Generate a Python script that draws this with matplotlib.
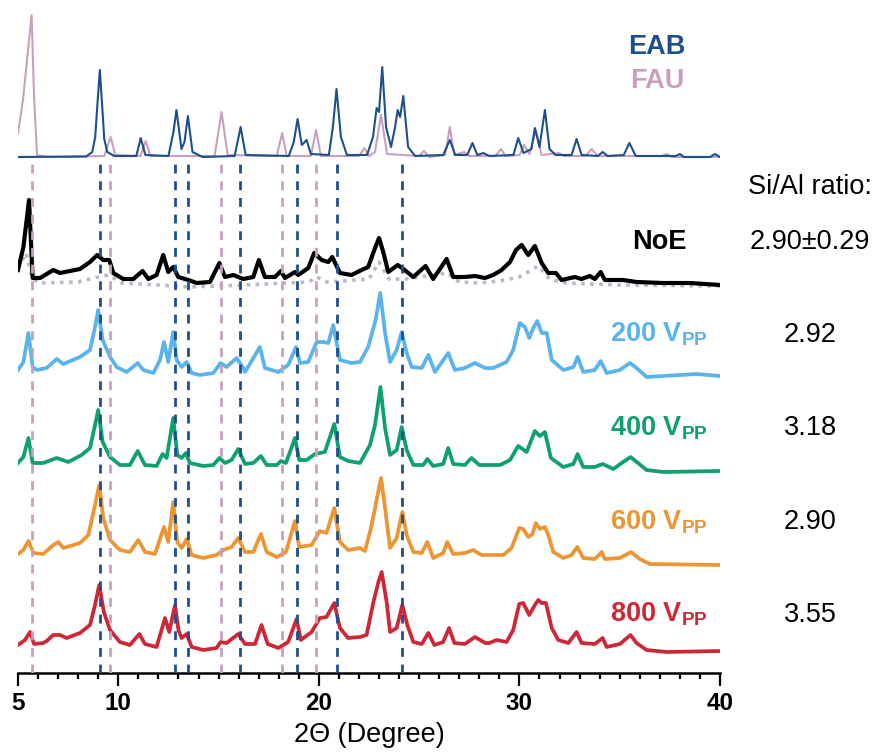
import matplotlib
matplotlib.use("Agg")
import matplotlib.pyplot as plt
from matplotlib.ticker import MultipleLocator, FixedLocator

plt.rcParams['font.family'] = ['Liberation Sans', 'DejaVu Sans']
plt.rcParams['mathtext.fontset'] = 'custom'
plt.rcParams['mathtext.rm'] = 'Liberation Sans'
plt.rcParams['mathtext.bf'] = 'Liberation Sans:bold'

# ---------------- data: (2theta, intensity above own baseline) ----------------
eab_pts = [(5.0, 0), (8.4, 0.5), (8.7, 5), (8.85, 20), (8.95, 50), (9.08, 87), (9.2, 50), (9.3, 18),
           (9.45, 5), (9.8, 1),
           (10.9, 1), (11.12, 19), (11.35, 2), (12.5, 1), (12.75, 25), (12.9, 47), (13.15, 8),
           (13.3, 15), (13.47, 41), (13.7, 5), (14.2, 0), (15.8, 1), (16.1, 30), (16.35, 2),
           (18.5, 1), (18.75, 15), (18.94, 38), (19.15, 12), (19.39, 17), (19.6, 3), (20.5, 2),
           (20.7, 30), (20.88, 68), (21.1, 20), (21.4, 2), (22.4, 2), (22.7, 20), (22.88, 49),
           (23.0, 45), (23.16, 90), (23.35, 30), (23.6, 10), (23.8, 30), (23.93, 47), (24.05, 40),
           (24.21, 61), (24.45, 10), (24.8, 1), (26.2, 2), (26.53, 17), (26.8, 2), (27.4, 2),
           (27.66, 14), (27.9, 2), (28.2, 4), (28.5, 1), (29.7, 2), (29.94, 19), (30.2, 4),
           (30.6, 8), (30.77, 29), (31.0, 10), (31.27, 47), (31.5, 8), (31.8, 2), (32.6, 2),
           (32.85, 18), (33.1, 2), (33.9, 1), (34.15, 5), (34.4, 1), (35.2, 2), (35.48, 14),
           (35.8, 1), (37.8, 1), (38.0, 3), (38.2, 0), (39.5, 0), (39.75, 3), (40.0, 0)]

fau_pts = [(5.0, 24), (5.25, 57), (5.5, 107), (5.68, 142), (5.8, 60), (5.95, 2), (6.5, 0),
           (9.3, 1), (9.62, 20), (9.85, 2), (11.1, 1), (11.37, 16), (11.6, 1), (14.8, 1),
           (15.15, 45), (15.45, 2), (17.9, 1), (18.17, 24), (18.4, 1), (19.6, 1), (19.86, 27),
           (20.1, 1), (22.0, 1), (22.27, 9), (22.5, 1), (22.8, 5), (23.1, 42), (23.4, 3),
           (25.0, 1), (25.24, 6), (25.5, 0), (26.3, 2), (26.53, 30), (26.75, 2), (27.25, 5),
           (27.5, 1), (28.8, 1), (29.08, 8), (29.3, 1), (30.0, 2), (30.24, 12), (30.5, 3),
           (30.82, 27), (31.1, 2), (31.98, 4), (32.2, 1), (33.3, 1), (33.6, 8), (33.9, 1),
           (37.1, 1), (37.35, 3), (37.6, 0), (40.0, 0)]

noe_pts = [(5.0, 15), (5.27, 38), (5.55, 85), (5.73, 7), (6.1, 7), (6.76, 15), (7.09, 12),
           (8.09, 16), (8.59, 23), (8.95, 30), (9.25, 25), (9.55, 25), (9.75, 12), (10.25, 6),
           (10.75, 6), (11.21, 14), (11.5, 6), (11.91, 10), (12.24, 30), (12.49, 13), (12.74, 18),
           (12.99, 8), (13.49, 5), (13.91, 2), (14.57, 3), (15.04, 22), (15.32, 8), (15.74, 10),
           (16.23, 6), (16.73, 8), (17.01, 25), (17.31, 8), (17.81, 8), (18.11, 14), (18.31, 7),
           (18.81, 13), (18.97, 10), (19.47, 17), (19.77, 32), (20.14, 25), (20.47, 23),
           (20.67, 28), (21.05, 12), (21.63, 10), (22.13, 15), (22.46, 18), (22.8, 37),
           (23.0, 47), (23.21, 33), (23.46, 13), (23.93, 20), (24.21, 16), (24.71, 8),
           (25.32, 19), (25.7, 6), (26.37, 26), (26.7, 8), (27.28, 8), (27.78, 9), (28.28, 7),
           (28.69, 10), (29.11, 15), (29.53, 23), (29.83, 35), (30.11, 40), (30.44, 30),
           (30.77, 39), (31.11, 22), (31.44, 12), (31.82, 12), (32.1, 5), (32.77, 8), (33.1, 6),
           (33.51, 9), (33.76, 6), (34.05, 13), (34.26, 5), (35.17, 5), (35.84, 3), (37.17, 2),
           (38.5, 2), (40.0, 0)]

amorph_pts = [(5.0, 17), (5.4, 32), (5.7, 8), (6.0, 2), (8.0, 3), (9.0, 8), (9.5, 10), (10.2, 2),
              (12.0, 0), (13.5, -2), (16.3, 0), (19.5, 3), (19.9, 8), (20.4, 3), (22.5, 6),
              (23.0, 23), (23.5, 6), (24.3, 6), (26.4, 12), (27.0, 3), (28.0, 2), (29.0, 4),
              (30.0, 8), (30.94, 19), (31.5, 6), (32.35, 2), (35.0, 0), (40.0, -1)]

v200_pts = [(5.0, 7), (5.27, 15), (5.52, 44), (5.73, 10), (5.93, 7), (6.43, 9), (6.93, 18),
            (7.26, 13), (8.09, 20), (8.59, 27), (8.84, 50), (9.0, 67), (9.22, 37), (9.59, 20),
            (9.92, 10), (10.42, 5), (10.97, 14), (11.25, 7), (11.75, 4), (12.08, 17), (12.28, 35),
            (12.49, 15), (12.74, 45), (12.91, 17), (13.16, 10), (13.41, 15), (13.66, 4),
            (14.07, 2), (14.74, 4), (15.1, 14), (15.4, 10), (15.9, 19), (16.23, 9), (16.32, 5),
            (17.06, 30), (17.31, 9), (17.98, 5), (18.47, 12), (18.86, 30), (19.06, 14),
            (19.47, 15), (19.89, 35), (20.22, 35), (20.47, 34), (20.72, 52), (21.05, 17),
            (21.63, 14), (22.05, 15), (22.46, 30), (22.83, 57), (23.06, 84), (23.3, 44),
            (23.55, 15), (23.88, 27), (24.13, 45), (24.38, 24), (24.63, 10), (25.13, 9),
            (25.46, 22), (25.79, 5), (26.45, 24), (26.78, 7), (27.28, 9), (27.78, 14), (28.28, 9),
            (28.69, 9), (29.36, 15), (29.69, 27), (30.02, 54), (30.27, 50), (30.49, 39),
            (30.69, 49), (30.89, 56), (31.11, 44), (31.36, 44), (31.61, 17), (32.19, 7),
            (32.69, 10), (32.9, 20), (33.18, 5), (33.76, 7), (34.05, 16), (34.35, 4), (35.01, 7),
            (35.51, 14), (35.84, 9), (36.34, 0), (38.0, 2), (38.83, 3), (40.0, 1)]

v400_pts = [(5.0, 8), (5.27, 14), (5.52, 33), (5.73, 8), (6.26, 8), (6.93, 13), (7.51, 9),
            (8.17, 16), (8.59, 23), (8.84, 46), (9.0, 61), (9.22, 29), (9.59, 14), (10.08, 6),
            (10.58, 6), (10.97, 20), (11.33, 6), (11.91, 5), (12.21, 17), (12.41, 13), (12.74, 53),
            (12.94, 16), (13.16, 13), (13.37, 18), (13.57, 8), (14.24, 5), (14.74, 6), (15.04, 13),
            (15.32, 8), (15.65, 11), (15.98, 22), (16.32, 7), (16.73, 8), (17.11, 15), (17.4, 6),
            (17.9, 6), (18.11, 10), (18.36, 8), (18.81, 33), (19.02, 11), (19.39, 11),
            (19.81, 17), (20.3, 19), (20.77, 47), (21.05, 14), (21.46, 10), (22.05, 8),
            (22.55, 26), (22.8, 46), (23.07, 84), (23.3, 43), (23.55, 16), (23.88, 21),
            (24.13, 44), (24.38, 21), (24.71, 6), (25.2, 6), (25.41, 12), (25.7, 5), (26.2, 7),
            (26.45, 23), (26.7, 7), (27.28, 6), (27.61, 13), (28.0, 6), (29.03, 6), (29.53, 11),
            (29.94, 25), (30.36, 19), (30.77, 40), (31.02, 35), (31.27, 39), (31.57, 13),
            (32.19, 4), (32.69, 7), (32.9, 17), (33.18, 4), (33.76, 4), (34.15, 7), (34.68, 2),
            (35.17, 9), (35.54, 14), (36.34, 1), (37.17, -1), (40.0, 0)]

v600_pts = [(5.0, 11), (5.27, 15), (5.52, 24), (5.77, 12), (6.26, 11), (6.76, 20), (7.01, 23),
            (7.26, 17), (8.09, 22), (8.51, 30), (8.84, 60), (9.05, 80), (9.25, 47), (9.59, 25),
            (10.08, 15), (10.58, 13), (11.0, 25), (11.33, 13), (11.83, 11), (12.28, 38),
            (12.49, 23), (12.74, 63), (12.94, 23), (13.16, 17), (13.41, 26), (13.66, 10),
            (14.24, 7), (14.9, 10), (15.24, 15), (15.65, 18), (15.98, 27), (16.32, 13),
            (16.73, 13), (17.11, 31), (17.4, 13), (17.9, 8), (18.36, 13), (18.81, 44), (19.02, 18),
            (19.64, 20), (20.05, 34), (20.38, 32), (20.77, 57), (21.05, 23), (21.46, 15),
            (22.05, 17), (22.3, 14), (22.6, 37), (22.83, 60), (23.1, 87), (23.3, 57), (23.55, 17),
            (23.88, 27), (24.16, 53), (24.38, 30), (24.71, 13), (25.13, 12), (25.41, 23),
            (25.7, 7), (26.2, 12), (26.4, 23), (26.7, 11), (27.28, 12), (27.7, 15), (28.1, 10),
            (29.2, 10), (29.61, 17), (29.99, 37), (30.19, 36), (30.44, 28), (30.65, 31),
            (30.82, 42), (31.02, 36), (31.27, 38), (31.44, 30), (31.69, 13), (32.19, 7),
            (32.6, 10), (32.88, 18), (33.18, 7), (33.76, 6), (34.1, 13), (34.26, 6), (35.01, 7),
            (35.56, 13), (36.0, 6), (36.5, 1), (40.0, 0)]

v800_pts = [(5.0, 6), (5.35, 11), (5.6, 19), (5.8, 7), (6.26, 8), (6.43, 10), (6.76, 16),
            (7.09, 16), (7.43, 13), (8.09, 18), (8.59, 26), (8.84, 46), (9.05, 66), (9.28, 39),
            (9.59, 21), (10.08, 9), (10.58, 6), (11.05, 17), (11.33, 7), (11.91, 4), (12.33, 33),
            (12.54, 19), (12.83, 46), (13.0, 21), (13.16, 13), (13.41, 17), (13.66, 4),
            (14.24, 1), (14.9, 3), (15.1, 9), (15.4, 8), (15.98, 17), (16.32, 7), (16.82, 7),
            (17.14, 26), (17.45, 7), (17.98, 3), (18.47, 9), (18.89, 32), (19.1, 11), (19.64, 19),
            (20.05, 33), (20.38, 34), (20.77, 48), (21.05, 23), (21.46, 13), (22.05, 14),
            (22.38, 16), (22.72, 49), (22.97, 69), (23.13, 79), (23.38, 49), (23.55, 19),
            (23.88, 23), (24.16, 46), (24.41, 26), (24.71, 9), (25.13, 7), (25.46, 18),
            (25.76, 6), (26.2, 9), (26.49, 23), (26.76, 8), (27.28, 7), (27.78, 14), (28.3, 8),
            (28.5, 8), (28.86, 11), (29.36, 9), (29.69, 21), (29.99, 47), (30.19, 48),
            (30.49, 36), (30.77, 46), (30.94, 51), (31.11, 48), (31.32, 48), (31.61, 23),
            (31.94, 11), (32.44, 8), (32.85, 19), (33.1, 8), (33.76, 7), (34.15, 13), (34.35, 4),
            (35.01, 7), (35.54, 16), (35.84, 8), (36.34, 1), (37.34, -1), (40.0, 0)]

fau_lines = [5.68, 9.61, 15.13, 18.15, 19.86]
eab_lines = [9.08, 12.81, 13.47, 16.08, 18.90, 20.89, 24.14]

x_ticks = [5, 10, 20, 30, 40]
sample_labels = ['200', '400', '600', '800']
si_al_ratios = ['2.92', '3.18', '2.90', '3.55']
noe_ratio = '2.90±0.29'

# ---------------- styling / layout ----------------
W, H = 876, 752
c_eab = '#1e4f8c'
c_fau = '#c8a0be'
c_samples = ['#5ab4eb', '#0fa06e', '#eb9632', '#cd2837']
sample_offsets = [296, 202, 108, 22]
sample_baselines_px = [342, 435, 529, 622]
ref_offset = 516
noe_offset = 388
FS = 19.5

fig = plt.figure(figsize=(W / 100, H / 100), dpi=100)
ax = fig.add_axes([18 / W, (H - 673) / H, (720 - 18) / W, (673 - 10) / H])
ax.set_xlim(5, 40)
ax.set_ylim(0, 663)


def unzip(pts):
    return [p[0] for p in pts], [p[1] for p in pts]


x, y = unzip(fau_pts)
ax.plot(x, [v + ref_offset for v in y], color=c_fau, lw=1.5, zorder=3, solid_joinstyle='round')
x, y = unzip(eab_pts)
ax.plot(x, [v + ref_offset for v in y], color=c_eab, lw=1.5, zorder=4, solid_joinstyle='round')

x, y = unzip(amorph_pts)
ax.plot(x, [v + noe_offset for v in y], color='#b9b9c8', lw=2.6, ls=(0, (1, 1.5)), zorder=3)
x, y = unzip(noe_pts)
ax.plot(x, [v + noe_offset for v in y], color='black', lw=3.0, zorder=4, solid_joinstyle='round')

for pts, col, off in zip([v200_pts, v400_pts, v600_pts, v800_pts], c_samples, sample_offsets):
    x, y = unzip(pts)
    ax.plot(x, [v + off for v in y], color=col, lw=2.7, zorder=4, solid_joinstyle='round')

for xv in fau_lines:
    ax.plot([xv, xv], [0, 515], color=c_fau, lw=2.0, dashes=(3.2, 2.8), zorder=5)
for xv in eab_lines:
    ax.plot([xv, xv], [0, 515], color=c_eab, lw=2.0, dashes=(3.2, 2.8), zorder=5)

for s in ['top', 'right', 'left']:
    ax.spines[s].set_visible(False)
ax.spines['bottom'].set_linewidth(1.8)
ax.set_yticks([])
ax.xaxis.set_major_locator(FixedLocator(x_ticks))
ax.xaxis.set_minor_locator(MultipleLocator(1))
ax.tick_params(axis='x', which='major', length=9, width=1.6, direction='out', pad=5,
               labelsize=17.5)
ax.tick_params(axis='x', which='minor', length=4.5, width=1.6, direction='out')
for lab in ax.get_xticklabels():
    lab.set_fontweight('bold')


def ftext(px, py, s, **kw):
    fig.text(px / W, 1 - py / H, s, **kw)


ftext(369, 742, '2Θ (Degree)', ha='center', va='baseline', fontsize=19.5)
ftext(686, 54, 'EAB', ha='right', va='baseline', fontsize=FS, fontweight='bold', color=c_eab)
ftext(684, 88, 'FAU', ha='right', va='baseline', fontsize=FS, fontweight='bold', color=c_fau)
ftext(810, 194, 'Si/Al ratio:', ha='center', va='baseline', fontsize=FS)
ftext(686, 249, 'NoE', ha='right', va='baseline', fontsize=FS, fontweight='bold', color='black')
ftext(810, 249, noe_ratio, ha='center', va='baseline', fontsize=FS)
for lab, col, bpx, r in zip(sample_labels, c_samples, sample_baselines_px, si_al_ratios):
    ftext(708, bpx, lab + r' V$_{\mathbf{PP}}$', ha='right', va='baseline', fontsize=FS,
          fontweight='bold', color=col)
    ftext(810, bpx, r, ha='center', va='baseline', fontsize=FS)

fig.savefig('out.png', dpi=100)
